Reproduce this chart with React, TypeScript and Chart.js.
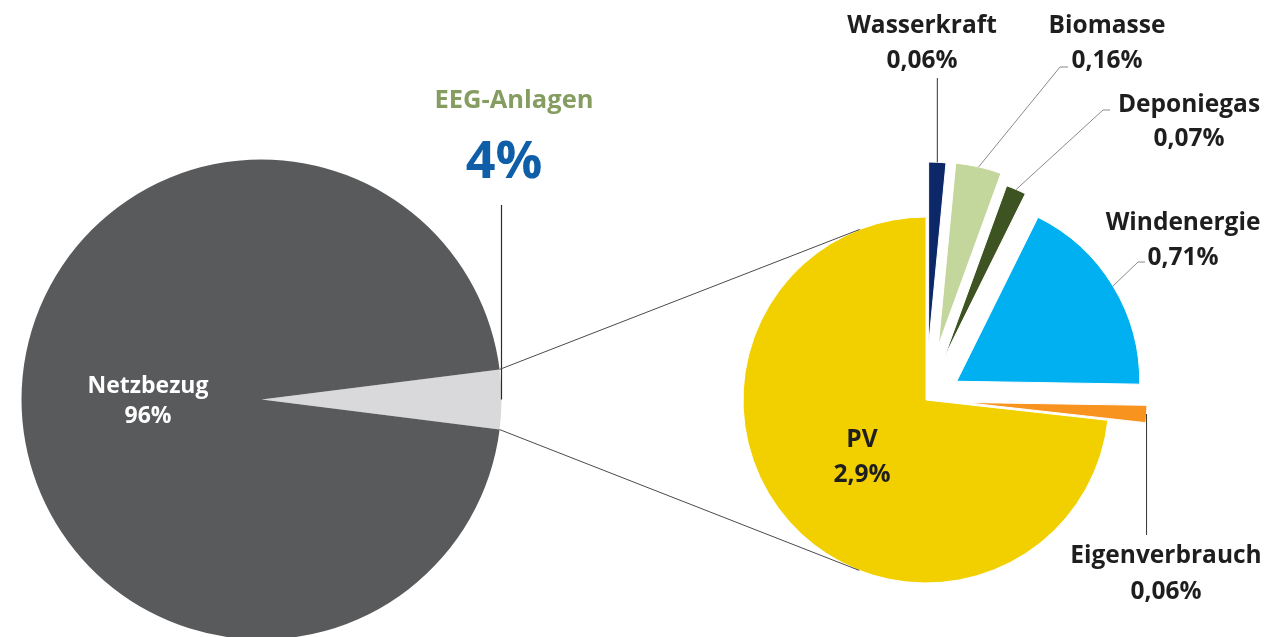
import React, { useEffect, useRef } from "react";
import { Chart, registerables } from "chart.js";

Chart.register(...registerables);

// ---------------- data ----------------
const overviewLabels = ["EEG-Anlagen", "Netzbezug"];
const overviewValues = [4, 96];
const overviewValueText = ["4%", "96%"];

const detailLabels = ["Wasserkraft", "Biomasse", "Deponiegas", "Windenergie", "Eigenverbrauch", "PV"];
const detailValues = [0.06, 0.16, 0.07, 0.71, 0.06, 2.9];
const detailValueText = ["0,06%", "0,16%", "0,07%", "0,71%", "0,06%", "2,9%"];

// ---------------- styles / layout ----------------
const W = 1270;
const H = 637;
const FONT = '"Open Sans", "DejaVu Sans", sans-serif';
const overviewColors = ["#d9d9dc", "#595a5c"];
const detailColors = ["#0c2868", "#c3d69b", "#3d5322", "#00b0f0", "#f7931e", "#f2d000"];
const detailExplode = [55, 56, 46, 36, 38, 0];
const overviewGeom = { cx: 261.5, cy: 399.5, r: 240 };
const detailGeom = { cx: 926, cy: 400, r: 183 };
const LABEL_SIZE = 24.5;
const MAIN_LABEL_SIZE = 23;
const TEXT_COLOR = "#1e1e1e";

type Leader =
  | { kind: "vertical"; y: number }
  | { kind: "elbow"; pts: [number, number][] }
  | null;

const detailLabelLayout: { x: number; y: number; gap: number; leader: Leader }[] = [
  { x: 922, y: 33, gap: 35, leader: { kind: "vertical", y: 78 } },
  { x: 1107, y: 33, gap: 35, leader: { kind: "elbow", pts: [[1068, 67], [1060, 67]] } },
  { x: 1189, y: 112, gap: 34, leader: { kind: "elbow", pts: [[1110, 110], [1103, 110]] } },
  { x: 1183, y: 230, gap: 35, leader: { kind: "elbow", pts: [[1145, 262], [1138, 262]] } },
  { x: 1166, y: 563, gap: 36, leader: { kind: "vertical", y: 535 } },
  { x: 862, y: 447, gap: 35, leader: null },
];

const overviewLayout = {
  main: { x: 148, y: 393, gap: 30, color: "#ffffff" },
  eegTitle: { x: 514, y: 108, size: 25.5, color: "#869d62" },
  eegValue: { x: 504, y: 178, size: 52, color: "#0f5fa8" },
  eegLeaderTop: 205,
};

function drawLines(ctx: CanvasRenderingContext2D, lines: string[], x: number, y: number, gap: number, size: number, color: string) {
  ctx.save();
  ctx.font = `bold ${size}px ${FONT}`;
  ctx.fillStyle = color;
  ctx.textAlign = "center";
  ctx.textBaseline = "alphabetic";
  lines.forEach((t, i) => ctx.fillText(t, x, y + i * gap));
  ctx.restore();
}

function arcMid(arc: any) {
  const mid = (arc.startAngle + arc.endAngle) / 2;
  return [arc.x + Math.cos(mid) * arc.outerRadius, arc.y + Math.sin(mid) * arc.outerRadius];
}

export default function App() {
  const leftRef = useRef<HTMLCanvasElement>(null);
  const rightRef = useRef<HTMLCanvasElement>(null);

  useEffect(() => {
    const total = overviewValues.reduce((a, b) => a + b, 0);
    const eegSweep = (overviewValues[0] / total) * 360;

    const overviewPlugin = {
      id: "overviewLabels",
      afterDatasetsDraw(chart: any) {
        const ctx = chart.ctx as CanvasRenderingContext2D;
        const arcs = chart.getDatasetMeta(0).data;
        const m = overviewLayout.main;
        drawLines(ctx, [overviewLabels[1], overviewValueText[1]], m.x, m.y, m.gap, MAIN_LABEL_SIZE, m.color);
        const t = overviewLayout.eegTitle;
        drawLines(ctx, [overviewLabels[0]], t.x, t.y, 0, t.size, t.color);
        const v = overviewLayout.eegValue;
        drawLines(ctx, [overviewValueText[0]], v.x, v.y, 0, v.size, v.color);
        const [mx, my] = arcMid(arcs[0]);
        ctx.save();
        ctx.strokeStyle = "#2b2b2b";
        ctx.lineWidth = 1.2;
        ctx.beginPath();
        ctx.moveTo(mx, my);
        ctx.lineTo(mx, overviewLayout.eegLeaderTop);
        ctx.stroke();
        ctx.restore();
      },
    };

    const left = new Chart(leftRef.current as HTMLCanvasElement, {
      type: "pie",
      data: {
        labels: overviewLabels,
        datasets: [
          {
            data: overviewValues,
            backgroundColor: overviewColors,
            borderWidth: 0,
            clip: false,
            radius: overviewGeom.r,
            rotation: 90 - eegSweep / 2,
          } as any,
        ],
      },
      options: {
        responsive: false,
        animation: false,
        devicePixelRatio: 1,
        events: [],
        rotation: 90 - eegSweep / 2,
        radius: overviewGeom.r,
        layout: {
          padding: {
            left: 0,
            right: W - 2 * overviewGeom.cx,
            top: 2 * overviewGeom.cy - H,
            bottom: 0,
          },
        },
        plugins: { legend: { display: false }, tooltip: { enabled: false } },
      } as any,
      plugins: [overviewPlugin],
    });

    const explodePlugin = {
      id: "explode",
      afterDatasetUpdate(_chart: any, args: any) {
        args.meta.data.forEach((arc: any, i: number) => {
          const d = detailExplode[i] || 0;
          const mid = (arc.startAngle + arc.endAngle) / 2;
          arc.x += Math.cos(mid) * d;
          arc.y += Math.sin(mid) * d;
        });
      },
    };

    const detailPlugin = {
      id: "detailLabels",
      afterDatasetsDraw(chart: any) {
        const ctx = chart.ctx as CanvasRenderingContext2D;
        const arcs = chart.getDatasetMeta(0).data;
        // connectors from the EEG slice to the detail pie (tangent lines)
        const eeg: any = left.getDatasetMeta(0).data[0];
        const pv: any = arcs[arcs.length - 1];
        const corners = [
          { a: eeg.startAngle, sign: 1 },
          { a: eeg.endAngle, sign: -1 },
        ];
        ctx.save();
        ctx.strokeStyle = "#4a4a4a";
        ctx.lineWidth = 1;
        corners.forEach(({ a, sign }) => {
          const px = eeg.x + Math.cos(a) * eeg.outerRadius;
          const py = eeg.y + Math.sin(a) * eeg.outerRadius;
          const dx = px - pv.x;
          const dy = py - pv.y;
          const d = Math.hypot(dx, dy);
          const theta = Math.atan2(dy, dx);
          const alpha = Math.acos(pv.outerRadius / d);
          const t = theta + sign * alpha;
          ctx.beginPath();
          ctx.moveTo(px, py);
          ctx.lineTo(pv.x + Math.cos(t) * pv.outerRadius, pv.y + Math.sin(t) * pv.outerRadius);
          ctx.stroke();
        });
        ctx.restore();

        detailLabelLayout.forEach((lay, i) => {
          const [mx, my] = arcMid(arcs[i]);
          if (lay.leader) {
            ctx.save();
            ctx.lineWidth = 1;
            ctx.beginPath();
            if (lay.leader.kind === "vertical") {
              ctx.strokeStyle = "#333333";
              ctx.moveTo(mx, my);
              ctx.lineTo(mx, lay.leader.y);
            } else {
              ctx.strokeStyle = "#8a8a8a";
              const pts = lay.leader.pts;
              ctx.moveTo(pts[0][0], pts[0][1]);
              for (let k = 1; k < pts.length; k++) ctx.lineTo(pts[k][0], pts[k][1]);
              ctx.lineTo(mx, my);
            }
            ctx.stroke();
            ctx.restore();
          }
          drawLines(ctx, [detailLabels[i], detailValueText[i]], lay.x, lay.y, lay.gap, LABEL_SIZE, TEXT_COLOR);
        });
      },
    };

    const right = new Chart(rightRef.current as HTMLCanvasElement, {
      type: "pie",
      data: {
        labels: detailLabels,
        datasets: [
          {
            data: detailValues,
            backgroundColor: detailColors,
            borderColor: "#ffffff",
            borderWidth: 1,
            clip: false,
            radius: detailGeom.r,
            rotation: 0,
          } as any,
        ],
      },
      options: {
        responsive: false,
        animation: false,
        devicePixelRatio: 1,
        events: [],
        rotation: 0,
        radius: detailGeom.r,
        layout: {
          padding: {
            left: 2 * detailGeom.cx - W,
            right: 0,
            top: 2 * detailGeom.cy - H,
            bottom: 0,
          },
        },
        plugins: { legend: { display: false }, tooltip: { enabled: false } },
      } as any,
      plugins: [explodePlugin, detailPlugin],
    });

    return () => {
      right.destroy();
      left.destroy();
    };
  }, []);

  const canvasStyle: React.CSSProperties = { position: "absolute", left: 0, top: 0 };
  return (
    <div
      style={{
        position: "fixed",
        left: 0,
        top: 0,
        width: W,
        height: H,
        overflow: "hidden",
        background: "#ffffff",
      }}
    >
      <canvas ref={leftRef} width={W} height={H} style={canvasStyle} />
      <canvas ref={rightRef} width={W} height={H} style={canvasStyle} />
    </div>
  );
}
